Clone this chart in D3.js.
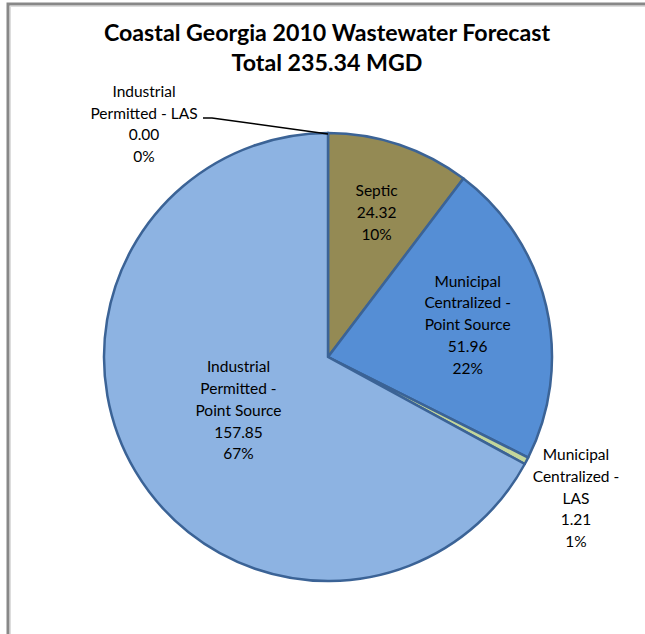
<!DOCTYPE html>
<html><head><meta charset="utf-8">
<script src="https://cdn.jsdelivr.net/npm/d3@7"></script>
<style>
html,body{margin:0;padding:0;background:#fff;overflow:hidden;}
svg{display:block;}
text{font-family:Lato, "Open Sans", sans-serif;fill:#000;}
</style></head>
<body><svg id="c" width="645" height="634"></svg>
<script>
const titleLines = ["Coastal Georgia 2010 Wastewater Forecast", "Total 235.34 MGD"];
const categories = ["Industrial Permitted - LAS", "Septic", "Municipal Centralized - Point Source", "Municipal Centralized - LAS", "Industrial Permitted - Point Source"];
const values = [0.00, 24.32, 51.96, 1.21, 157.85];
const percents = ["0%", "10%", "22%", "1%", "67%"];
const labelLines = [
  ["Industrial", "Permitted - LAS"],
  ["Septic"],
  ["Municipal", "Centralized -", "Point Source"],
  ["Municipal", "Centralized -", "LAS"],
  ["Industrial", "Permitted -", "Point Source"]
];
const colors = ["#4F81BD", "#948A54", "#558ED5", "#C3D69B", "#8DB3E2"];

(function () {
const svg = d3.select("#c");
const W = 645, H = 634;
svg.append("rect").attr("x", 8).attr("y", 4).attr("width", W + 20).attr("height", H + 20)
  .attr("fill", "#fff").attr("stroke", "#888").attr("stroke-width", 3);
svg.append("rect").attr("x", 10.5).attr("y", 6.5).attr("width", W + 20).attr("height", H + 20)
  .attr("fill", "none").attr("stroke", "#ddd").attr("stroke-width", 1);

svg.append("g").selectAll("text").data(titleLines).join("text")
  .attr("x", 327).attr("y", (d, i) => 41 + i * 29.5)
  .attr("text-anchor", "middle").attr("font-weight", "bold").attr("font-size", 23.2)
  .text(d => d);

const cx = 328, cy = 357, R = 224;
const pie = d3.pie().sort(null).value(d => d).startAngle(0).endAngle(2 * Math.PI);
const arcs = pie(values);
const arc = d3.arc().innerRadius(0).outerRadius(R);
const g = svg.append("g").attr("transform", `translate(${cx},${cy})`);
g.selectAll("path").data(arcs).join("path")
  .attr("d", arc).attr("fill", (d, i) => colors[i])
  .attr("stroke", "#3B6396").attr("stroke-width", 2.5).attr("stroke-linejoin", "round");

const labelRadius = [null, 0.68, 0.64, 1.27, 0.465];
const lh = 21.8;
arcs.forEach((a, i) => {
  const lines = labelLines[i].concat([values[i].toFixed(2), percents[i]]);
  let lx, ly;
  if (i === 0) {
    lx = 144 - cx; ly = 124 - cy;
  } else if (i === 3) {
    lx = 576 - cx; ly = 498 - cy;
  } else {
    const mid = (a.startAngle + a.endAngle) / 2;
    const r = R * labelRadius[i];
    lx = r * Math.sin(mid); ly = -r * Math.cos(mid);
  }
  const t = g.append("text").attr("text-anchor", "middle").attr("font-size", 15.5);
  const n = lines.length;
  lines.forEach((s, k) => {
    t.append("tspan").attr("x", lx).attr("y", ly + (k - (n - 1) / 2) * lh + 5.5).text(s);
  });
});
svg.append("path")
  .attr("d", d3.line()([[203, 118], [212, 118], [cx, cy - R + 1]]))
  .attr("fill", "none").attr("stroke", "#000").attr("stroke-width", 1.5);
})();
</script></body></html>
